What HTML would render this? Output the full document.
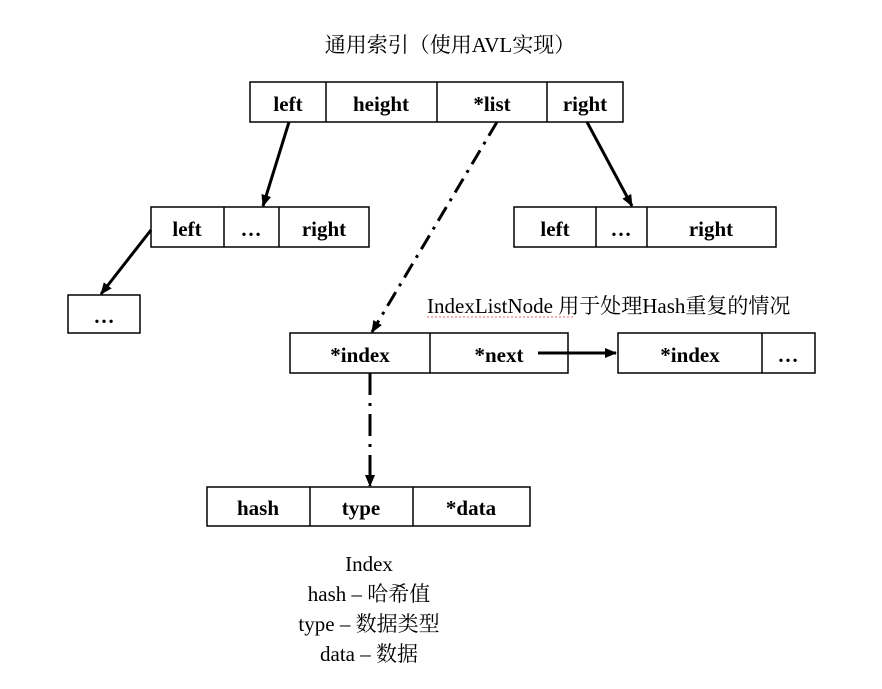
<!DOCTYPE html>
<html><head><meta charset="utf-8"><style>
body{margin:0;background:#fff;width:882px;height:684px;overflow:hidden}
svg text{font-family:"Liberation Serif","Noto Serif CJK SC",serif}
.b{font-weight:bold;font-size:21px}
.n{font-size:21px}
</style></head><body>
<svg width="882" height="684" xmlns="http://www.w3.org/2000/svg">
<defs><marker id="a" markerWidth="12" markerHeight="12" refX="11" refY="6" orient="auto" markerUnits="userSpaceOnUse"><path d="M0,1 L12,6 L0,11 z" fill="#000"/></marker></defs>
<g fill="none" stroke="#000" stroke-width="1.5">
<rect x="250" y="82" width="373" height="40"/><path d="M326 82V122M437 82V122M547 82V122"/>
<rect x="151" y="207" width="218" height="40"/><path d="M224 207V247M279 207V247"/>
<rect x="514" y="207" width="262" height="40"/><path d="M596 207V247M647 207V247"/>
<rect x="68" y="295" width="72" height="38"/>
<rect x="290" y="333" width="278" height="40"/><path d="M430 333V373"/>
<rect x="618" y="333" width="197" height="40"/><path d="M762 333V373"/>
<rect x="207" y="487" width="323" height="39"/><path d="M310 487V526M413 487V526"/>
</g>
<g stroke="#000" stroke-width="3" fill="none">
<line x1="289" y1="122" x2="263" y2="206" marker-end="url(#a)"/>
<line x1="587" y1="122" x2="632" y2="206" marker-end="url(#a)"/>
<line x1="151" y1="230" x2="101" y2="294" marker-end="url(#a)"/>
<line x1="538" y1="353" x2="616" y2="353" marker-end="url(#a)"/>
<line x1="497" y1="122" x2="372" y2="332" stroke-dasharray="16,7,3,7" marker-end="url(#a)"/>
<line x1="370" y1="373" x2="370" y2="486" stroke-dasharray="22,8,3,8" marker-end="url(#a)"/>
</g>
<g text-anchor="middle" class="b">
<text x="288" y="111">left</text><text x="381" y="111">height</text><text x="492" y="111">*list</text><text x="585" y="111">right</text>
<text x="187" y="236">left</text><text x="251" y="236">…</text><text x="324" y="236">right</text>
<text x="555" y="236">left</text><text x="621" y="236">…</text><text x="711" y="236">right</text>
<text x="104" y="323">…</text>
<text x="360" y="362">*index</text><text x="499" y="362">*next</text>
<text x="690" y="362">*index</text><text x="788" y="362">…</text>
<text x="258" y="515">hash</text><text x="361" y="515">type</text><text x="471" y="515">*data</text>
</g>
<g class="n">
<text x="450" y="52" text-anchor="middle">通用索引（使用AVL实现）</text>
<text x="427" y="313">IndexListNode 用于处理Hash重复的情况</text>
<path d="M427 317 H573" stroke="#e66" stroke-width="1" stroke-dasharray="2,2"/>
<text x="369" y="571" text-anchor="middle">Index</text>
<text x="369" y="601" text-anchor="middle">hash – 哈希值</text>
<text x="369" y="631" text-anchor="middle">type – 数据类型</text>
<text x="369" y="661" text-anchor="middle">data – 数据</text>
</g>
</svg>
</body></html>
